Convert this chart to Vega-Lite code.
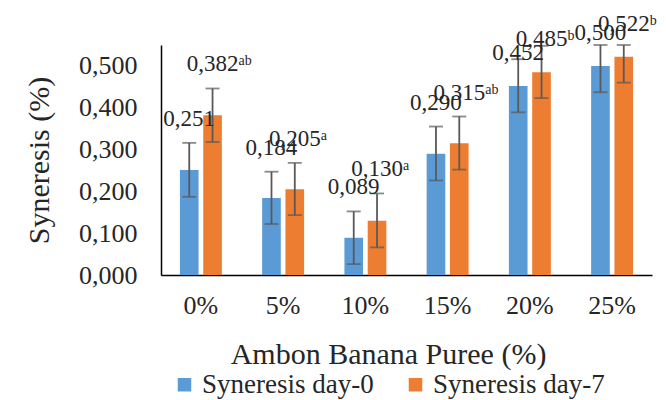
{
  "$schema": "https://vega.github.io/schema/vega-lite/v6.json",
  "autosize": "none",
  "width": 491,
  "height": 230,
  "padding": {"left": 161, "top": 45, "right": 14, "bottom": 125},
  "background": "white",
  "config": {
    "view": {"stroke": null},
    "font": "Liberation Serif",
    "text": {"font": "Liberation Serif", "color": "#262626"},
    "style": {"guide-title": {"font": "Liberation Serif"}, "guide-label": {"font": "Liberation Serif"}}
  },
  "data": {
    "values": [
      {"puree": "0%", "series": "Syneresis day-0", "value": 0.251, "lo": 0.187, "hi": 0.316, "label": "0,251", "sup": ""},
      {"puree": "0%", "series": "Syneresis day-7", "value": 0.382, "lo": 0.318, "hi": 0.446, "label": "0,382", "sup": "ab"},
      {"puree": "5%", "series": "Syneresis day-0", "value": 0.184, "lo": 0.122, "hi": 0.247, "label": "0,184", "sup": ""},
      {"puree": "5%", "series": "Syneresis day-7", "value": 0.205, "lo": 0.143, "hi": 0.268, "label": "0,205", "sup": "a"},
      {"puree": "10%", "series": "Syneresis day-0", "value": 0.089, "lo": 0.026, "hi": 0.152, "label": "0,089", "sup": ""},
      {"puree": "10%", "series": "Syneresis day-7", "value": 0.130, "lo": 0.066, "hi": 0.195, "label": "0,130", "sup": "a"},
      {"puree": "15%", "series": "Syneresis day-0", "value": 0.290, "lo": 0.226, "hi": 0.355, "label": "0,290", "sup": ""},
      {"puree": "15%", "series": "Syneresis day-7", "value": 0.315, "lo": 0.252, "hi": 0.379, "label": "0,315", "sup": "ab"},
      {"puree": "20%", "series": "Syneresis day-0", "value": 0.452, "lo": 0.389, "hi": 0.516, "label": "0,452", "sup": ""},
      {"puree": "20%", "series": "Syneresis day-7", "value": 0.485, "lo": 0.423, "hi": 0.548, "label": "0,485", "sup": "b"},
      {"puree": "25%", "series": "Syneresis day-0", "value": 0.500, "lo": 0.437, "hi": 0.563, "label": "0,500", "sup": ""},
      {"puree": "25%", "series": "Syneresis day-7", "value": 0.522, "lo": 0.460, "hi": 0.585, "label": "0,522", "sup": "b"}
    ]
  },
  "encoding": {
    "x": {
      "field": "puree", "type": "nominal",
      "sort": ["0%", "5%", "10%", "15%", "20%", "25%"],
      "scale": {"paddingInner": 0.49, "paddingOuter": 0.23},
      "axis": {
        "labelAngle": 0, "ticks": false, "domainColor": "#000000", "domainWidth": 1.5,
        "labelFont": "Liberation Serif", "labelColor": "#262626",
        "labelFontSize": 26, "labelPadding": 17,
        "title": "Ambon Banana Puree (%)", "titleFont": "Liberation Serif", "titleFontSize": 30,
        "titleFontWeight": "normal", "titleColor": "#262626",
        "titleX": 227, "titleY": 88, "titleBaseline": "alphabetic", "titleAlign": "center"
      }
    },
    "xOffset": {
      "field": "series", "type": "nominal",
      "sort": ["Syneresis day-0", "Syneresis day-7"],
      "scale": {"paddingInner": 0.2, "paddingOuter": 0}
    }
  },
  "layer": [
    {
      "mark": {"type": "bar"},
      "encoding": {
        "y": {
          "field": "value", "type": "quantitative", "title": "Syneresis (%)",
          "scale": {"domain": [0, 0.55], "clamp": true, "nice": false},
          "axis": {
            "values": [0, 0.1, 0.2, 0.3, 0.4, 0.5],
            "labelExpr": "replace(format(datum.value, '.3f'), '.', ',')",
            "ticks": false, "grid": false, "domainColor": "#000000", "domainWidth": 1.5,
            "labelFont": "Liberation Serif", "labelColor": "#262626",
            "labelFontSize": 26, "labelPadding": 24,
            "title": "Syneresis (%)", "titleFont": "Liberation Serif", "titleFontSize": 30,
            "titleFontWeight": "normal", "titleColor": "#262626",
            "titleX": -122, "titleBaseline": "middle"
          }
        },
        "color": {
          "field": "series", "type": "nominal",
          "scale": {"domain": ["Syneresis day-0", "Syneresis day-7"], "range": ["#5B9BD5", "#ED7D31"]},
          "legend": {
            "orient": "none", "legendX": 10, "legendY": 326, "direction": "horizontal",
            "title": null, "symbolType": "square", "symbolSize": 182, "symbolStrokeWidth": 0,
            "labelFont": "Liberation Serif", "labelColor": "#262626", "labelLimit": 400,
            "labelFontSize": 27, "columnPadding": 28, "labelOffset": 4
          }
        }
      }
    },
    {
      "mark": {"type": "rule", "color": "#595959", "strokeWidth": 1.8},
      "encoding": {
        "y": {"field": "lo", "type": "quantitative", "title": "Syneresis (%)"},
        "y2": {"field": "hi"}
      }
    },
    {
      "mark": {"type": "tick", "color": "#595959", "thickness": 1.8, "size": 14},
      "encoding": {"y": {"field": "lo", "type": "quantitative", "title": "Syneresis (%)"}}
    },
    {
      "mark": {"type": "tick", "color": "#595959", "thickness": 1.8, "size": 14},
      "encoding": {"y": {"field": "hi", "type": "quantitative", "title": "Syneresis (%)"}}
    },
    {
      "transform": [{"filter": "datum.value < 0.45"}],
      "layer": [
        {
          "mark": {"type": "text", "baseline": "alphabetic", "align": "center", "dy": -17, "fontSize": 23},
          "encoding": {
            "y": {"field": "hi", "type": "quantitative", "title": "Syneresis (%)"},
            "text": {"field": "label"}
          }
        },
        {
          "mark": {"type": "text", "baseline": "alphabetic", "align": "left", "dx": 26, "dy": -23, "fontSize": 14},
          "encoding": {
            "y": {"field": "hi", "type": "quantitative", "title": "Syneresis (%)"},
            "text": {"field": "sup"}
          }
        }
      ]
    },
    {
      "transform": [{"filter": "datum.value >= 0.45"}],
      "layer": [
        {
          "mark": {"type": "text", "baseline": "alphabetic", "align": "center", "dy": -26, "fontSize": 23},
          "encoding": {
            "y": {"field": "value", "type": "quantitative", "title": "Syneresis (%)"},
            "text": {"field": "label"}
          }
        },
        {
          "mark": {"type": "text", "baseline": "alphabetic", "align": "left", "dx": 26, "dy": -32, "fontSize": 14},
          "encoding": {
            "y": {"field": "value", "type": "quantitative", "title": "Syneresis (%)"},
            "text": {"field": "sup"}
          }
        }
      ]
    }
  ]
}
